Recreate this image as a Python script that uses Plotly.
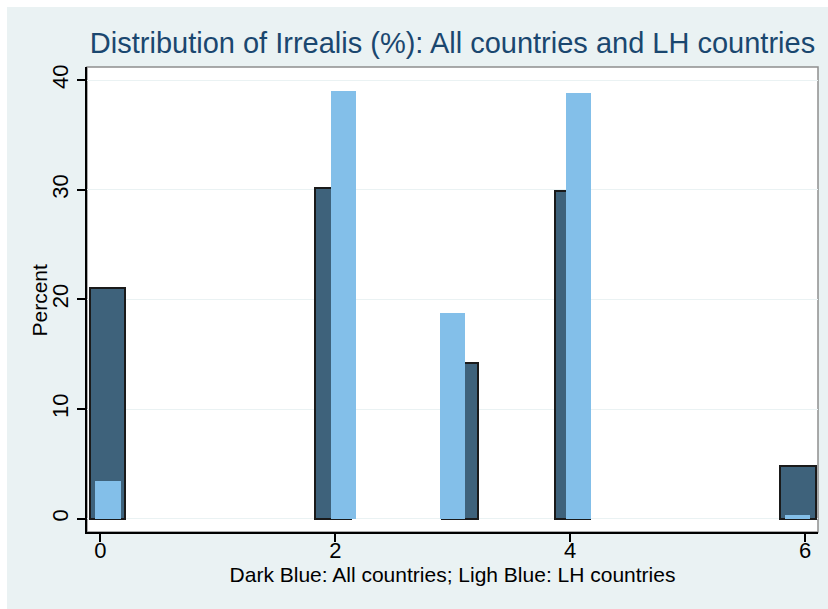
import plotly.graph_objects as go

# Histogram bins: bar centres and percentages for each group
all_x = [0.06, 1.98, 3.064, 4.018, 5.94]
all_pct = [21.0, 30.2, 14.2, 29.9, 4.8]

lh_x = [0.065, 2.067, 3.0, 4.068, 5.935]
lh_pct = [3.4, 39.0, 18.8, 38.8, 0.3]

x_ticks = [0, 2, 4, 6]
y_ticks = [0, 10, 20, 30, 40]

DARK = "#3E627B"
LIGHT = "#83BFE9"
BG = "#EAF2F3"
FONT = "Liberation Sans, Arial, sans-serif"

fig = go.Figure()

fig.add_trace(go.Bar(
    x=all_x, y=all_pct, width=0.303,
    marker=dict(color=DARK, line=dict(color="#1a1a1a", width=2)),
    name="All countries", hoverinfo="x+y",
))
fig.add_trace(go.Bar(
    x=lh_x, y=lh_pct, width=0.214,
    marker=dict(color=LIGHT, line=dict(color=LIGHT, width=0)),
    name="LH countries", hoverinfo="x+y",
))

# frame around plot region (top/right grey edge), white margin strips
shapes = [
    dict(type="rect", xref="paper", yref="paper", x0=0, x1=1, y0=0, y1=1,
         line=dict(color="#8f8f8f", width=1.5), fillcolor="rgba(0,0,0,0)", layer="below"),
    dict(type="rect", xref="paper", yref="paper", x0=-0.2, x1=1.1, y0=1.129, y1=1.2,
         line=dict(width=0), fillcolor="white", layer="below"),
    dict(type="rect", xref="paper", yref="paper", x0=-0.2, x1=-0.1094, y0=-0.3, y1=1.2,
         line=dict(width=0), fillcolor="white", layer="below"),
]

fig.update_layout(
    width=828, height=609,
    margin=dict(l=87, r=10, t=67, b=77),
    paper_bgcolor=BG, plot_bgcolor="white",
    barmode="overlay", bargap=0, showlegend=False,
    font=dict(family=FONT, color="black", size=21),
    title=dict(
        text="Distribution of Irrealis (%): All countries and LH countries",
        font=dict(family=FONT, size=29, color="#1A476F"),
        x=0.5, xref="paper", xanchor="center",
        y=1 - 43 / 609, yref="container", yanchor="middle",
    ),
    shapes=shapes,
    annotations=[dict(
        text="Percent", textangle=-90, showarrow=False,
        xref="paper", yref="paper", x=-0.0643, y=0.5,
        xanchor="center", yanchor="middle",
        font=dict(size=21, family=FONT, color="black"),
    )],
)

fig.update_xaxes(
    range=[-0.114, 6.11], tickvals=x_ticks, ticktext=[str(v) for v in x_ticks],
    showgrid=False, zeroline=False,
    showline=True, linecolor="black", linewidth=1.5,
    ticks="outside", ticklen=8, tickwidth=1.5, tickcolor="black",
    tickfont=dict(size=22, family=FONT), ticklabelstandoff=-10,
    title=dict(text="Dark Blue: All countries; Ligh Blue: LH countries",
               font=dict(size=21, family=FONT), standoff=0),
)
fig.update_yaxes(
    range=[-1.22, 41.2], tickvals=y_ticks, ticktext=[str(v) for v in y_ticks],
    tickangle=-90,
    showgrid=True, gridcolor=BG, gridwidth=1.2,
    zeroline=True, zerolinecolor=BG, zerolinewidth=1.2,
    showline=True, linecolor="black", linewidth=1.5,
    ticks="outside", ticklen=8, tickwidth=1.5, tickcolor="black",
    tickfont=dict(size=22, family=FONT),
)

fig.write_html("out.html")
